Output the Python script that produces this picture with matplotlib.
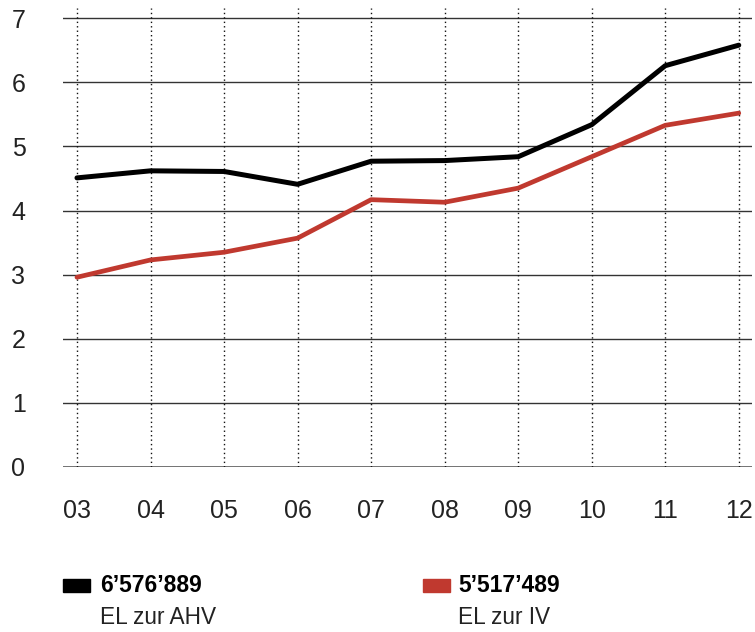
import matplotlib
matplotlib.use("Agg")
import matplotlib.pyplot as plt
from matplotlib.patches import Rectangle

years = ["03", "04", "05", "06", "07", "08", "09", "10", "11", "12"]
ahv = [4.51, 4.62, 4.61, 4.41, 4.77, 4.78, 4.84, 5.34, 6.26, 6.58]
iv = [2.96, 3.23, 3.35, 3.57, 4.17, 4.13, 4.35, 4.84, 5.33, 5.52]
yticks = [0, 1, 2, 3, 4, 5, 6, 7]
legend_values = ["6’576’889", "5’517’489"]
legend_labels = ["EL zur AHV", "EL zur IV"]
colors = ["#000000", "#c0392f"]

plt.rcParams['font.family'] = ['Liberation Sans', 'DejaVu Sans']

fig = plt.figure(figsize=(7.55, 6.32), dpi=100)
ax = fig.add_axes([63/755, 1-467/632, (752-63)/755, (467-8)/632])

x = list(range(len(years)))
ax.set_xlim(-0.19, 9.18)
ax.set_ylim(0, 7.16)

for yv in yticks:
    if yv == 0:
        ax.axhline(yv, color="#666666", lw=2.0, zorder=1)
    else:
        ax.axhline(yv, color="#333333", lw=1.0, zorder=1)
for xv in x:
    ax.axvline(xv, color="#111111", lw=1.0, ls=(0, (1, 2.2)), zorder=1)

ax.plot(x, iv, color=colors[1], lw=3.4, solid_capstyle="round", solid_joinstyle="round", zorder=3)
ax.plot(x, ahv, color=colors[0], lw=3.6, solid_capstyle="round", solid_joinstyle="round", zorder=4)

ax.set_xticks(x)
ax.set_xticklabels(years)
ax.set_yticks(yticks)
ax.tick_params(axis="both", length=0, labelsize=18, labelcolor="#222222")
ax.tick_params(axis="y", pad=27)
ax.tick_params(axis="x", pad=23)
for s in ax.spines.values():
    s.set_visible(False)

# legend
for i, (xs, xt) in enumerate([(63, 100), (423, 458)]):
    fig.patches.append(Rectangle((xs/755, 1-592/632), 27/755, 13/632,
                                 transform=fig.transFigure, color=colors[i]))
    fig.text(xt/755, 1-585/632, legend_values[i], fontsize=16.5, fontweight="bold",
             va="center", ha="left", color="#000000")
    fig.text(xt/755, 1-617/632, legend_labels[i], fontsize=16.3,
             va="center", ha="left", color="#222222")

fig.savefig("out.png", dpi=100)
